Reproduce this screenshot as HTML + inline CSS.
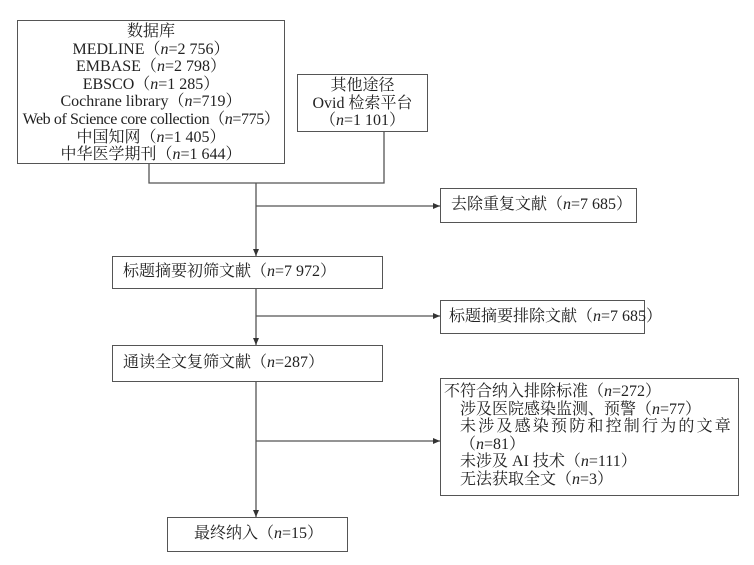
<!DOCTYPE html>
<html><head><meta charset="utf-8"><style>
body{margin:0;width:754px;height:565px;background:#fff;position:relative;overflow:hidden;font-family:"Liberation Serif","Noto Serif CJK SC",serif;font-size:16px;color:#222}
.b{position:absolute;border:1.3px solid #555;box-sizing:border-box;background:#fff;white-space:nowrap}
.c{text-align:center;line-height:17.6px}
.m{padding-left:10px}
.m span{display:block;line-height:18px}
i{font-style:italic}
svg{position:absolute;left:0;top:0}
</style></head><body>
<svg width="754" height="565">
<defs><marker id="a" markerWidth="8" markerHeight="8" refX="7" refY="4" orient="auto" markerUnits="userSpaceOnUse"><path d="M0,1 L7,4 L0,7z" fill="#333"/></marker></defs>
<g stroke="#555" stroke-width="1.3" fill="none">
<path d="M149,163V183H384V131"/>
<path d="M256,183V256" marker-end="url(#a)"/>
<path d="M256,206H440" marker-end="url(#a)"/>
<path d="M256,288V345" marker-end="url(#a)"/>
<path d="M256,316H440" marker-end="url(#a)"/>
<path d="M256,381V517" marker-end="url(#a)"/>
<path d="M256,441H440" marker-end="url(#a)"/>
</g></svg>
<div class="b c" style="left:17px;top:20px;width:268px;height:144px;padding-top:2px">数据库<br>MEDLINE（<i>n</i>=2 756）<br>EMBASE（<i>n</i>=2 798）<br>EBSCO（<i>n</i>=1 285）<br>Cochrane library（<i>n</i>=719）<br><span style="letter-spacing:-0.4px;margin-left:-6px;margin-right:-6px">Web of Science core collection（<i>n</i>=775）</span><br>中国知网（<i>n</i>=1 405）<br>中华医学期刊（<i>n</i>=1 644）</div>
<div class="b c" style="left:297px;top:74px;width:131px;height:58px;padding-top:2px">其他途径<br>Ovid 检索平台<br>（<i>n</i>=1 101）</div>
<div class="b m" style="left:440px;top:188px;width:197px;height:35px;padding-top:7px"><span>去除重复文献（<i>n</i>=7 685）</span></div>
<div class="b m" style="left:112px;top:256px;width:271px;height:33px;padding-top:6px"><span>标题摘要初筛文献（<i>n</i>=7 972）</span></div>
<div class="b m" style="left:440px;top:300px;width:205px;height:34px;padding-top:7px;padding-left:8px"><span>标题摘要排除文献（<i>n</i>=7 685）</span></div>
<div class="b m" style="left:112px;top:345px;width:271px;height:37px;padding-top:8px"><span>通读全文复筛文献（<i>n</i>=287）</span></div>
<div class="b" style="left:440px;top:378px;width:299px;height:118px;padding:4px 0 0 3px;line-height:17.5px">不符合纳入排除标准（<i>n</i>=272）<div style="padding-left:16px">涉及医院感染监测、预警（<i>n</i>=77）<br><span style="letter-spacing:2.2px">未涉及感染预防和控制行为的文章</span><br>（<i>n</i>=81）<br>未涉及 AI 技术（<i>n</i>=111）<br>无法获取全文（<i>n</i>=3）</div></div>
<div class="b m" style="left:167px;top:517px;width:181px;height:35px;padding-left:26px;padding-top:7px"><span>最终纳入（<i>n</i>=15）</span></div>
</body></html>
